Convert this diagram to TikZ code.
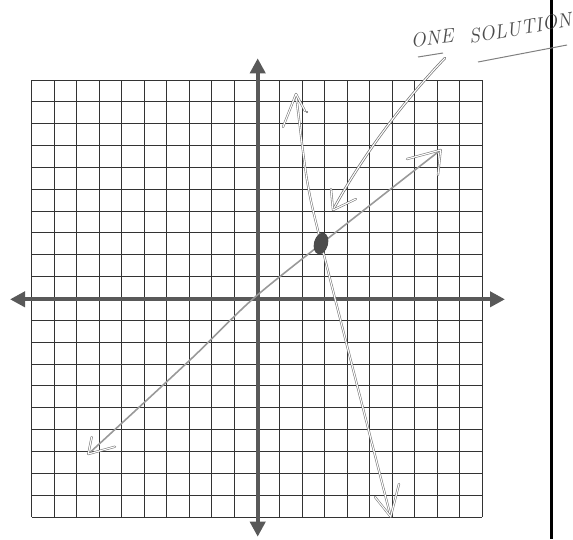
\documentclass[tikz,border=0pt]{standalone}
\usetikzlibrary{arrows.meta}
\begin{document}
\begin{tikzpicture}[x=1pt,y=-1pt,
  gridline/.style={draw=black!80,line width=1pt},
  axisline/.style={draw=black!65,line width=4pt,
    {Triangle[length=15pt,width=15pt]}-{Triangle[length=15pt,width=15pt]}},
  pencil/.style={draw=black!55,double=white,line width=0.55pt,double distance=1.1pt,line cap=round,line join=round},
  lightline/.style={draw=black!40,line width=1.6pt,line cap=round},
  handtext/.style={text=black!70,font=\fontsize{20}{24}\selectfont\itshape,inner sep=0pt}]
\useasboundingbox (0,0) rectangle (573,539);
% grid
\foreach \i in {0,...,20}{
  \draw[gridline] ({31.7+\i*22.53},80) -- ({31.7+\i*22.53},517);
  \draw[gridline] (31.7,{80+\i*21.85}) -- (482.3,{80+\i*21.85});
}
% axes
\coordinate (xl) at (10,299.3);
\coordinate (xr) at (505,299.3);
\coordinate (yt) at (257.7,58.3);
\coordinate (yb) at (257.7,536.7);
\draw[axisline] (xl) -- (xr);
\draw[axisline] (yt) -- (yb);
% page margin line
\coordinate (pt) at (551.7,0);
\coordinate (pb) at (551.7,539);
\draw[black,line width=2.5pt] (pt) -- (pb);
% line 2 (increasing)
\draw[lightline] plot[smooth,tension=0.5] coordinates {(440.7,150) (400,181.7) (321,244) (251.7,300) (190,360) (88.3,454)};
\draw[pencil] (407,159) -- (440.7,150) -- (438,175);
\draw[pencil] (91.7,437) -- (88.3,454) -- (115,446.7);
% line 1 (decreasing)
\draw[pencil] plot[smooth,tension=0.5] coordinates {(296,94) (307,180) (321,243) (366,420) (390.7,516.7)};
\draw[pencil] (283,127) -- (296,94) -- (305,111);
\fill[black!60] (307,112) circle (1.2pt);
\draw[pencil] (375,497) -- (390.7,516.7) -- (399,484);
% intersection point
\fill[black!70,rotate around={-15:(321,243.5)}] (321,243.5) ellipse (7pt and 11pt);
% pointer
\coordinate (ps) at (445,58);
\coordinate (pe) at (333,210);
\draw[pencil,line width=0.7pt] (ps) .. controls (400,105) and (360,160) .. (pe);
\draw[pencil] (331,189) -- (pe) -- (356,199);
% label
\node[handtext,rotate=6,anchor=center] (lblone) at (432,38) {ONE};
\node[handtext,rotate=10,anchor=center] (lblsol) at (520,28) {SOLUTION};
\draw[black!50,line width=1pt] (418,57) -- (443,53);
\draw[black!50,line width=1pt] (478,62) -- (567,45);
\end{tikzpicture}
\end{document}
